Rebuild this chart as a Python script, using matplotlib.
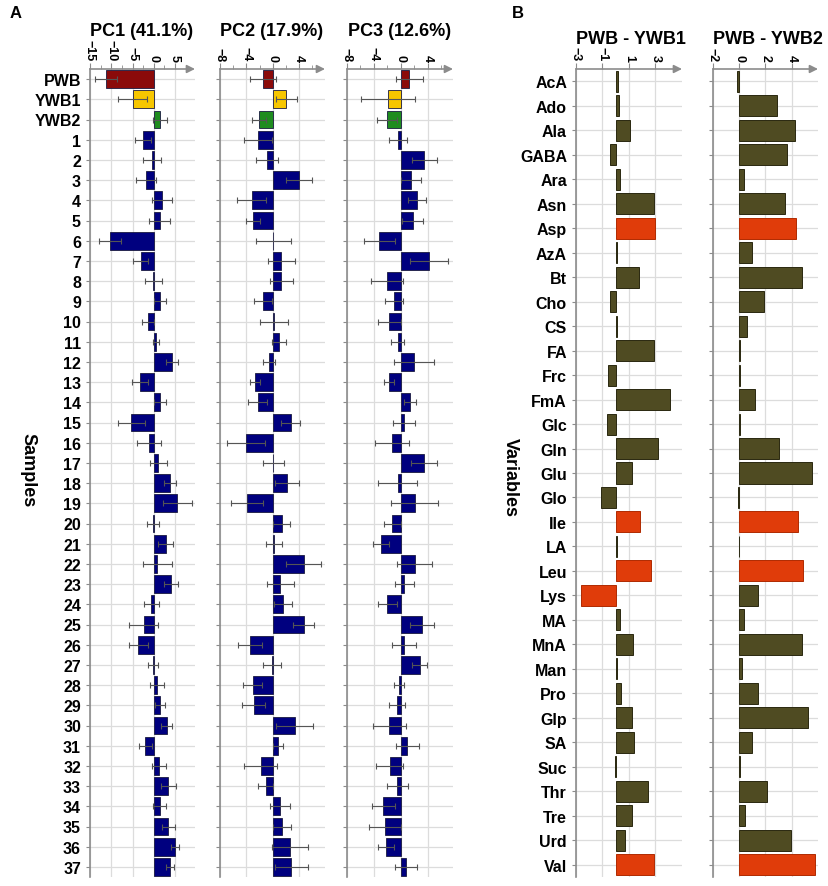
import matplotlib
matplotlib.use("Agg")
import matplotlib.pyplot as plt
from matplotlib.ticker import FixedLocator

# ---------------- data ----------------
samples = ["PWB", "YWB1", "YWB2"] + [str(i) for i in range(1, 38)]
sample_colors = ["#8b0a0a", "#f7c600", "#1f8c1f"] + ["#00007f"] * 37

pc1_mean = [-11.2, -5.0, 1.4, -2.6, -0.4, -1.8, 1.9, 1.4, -10.3, -3.1,
            -0.15, 1.5, -1.4, 0.55, 4.3, -3.3, 1.4, -5.25, -1.2, 1.1,
            3.8, 5.5, -0.2, 2.8, 0.8, 4.0, -0.55, -2.35, -3.6, -0.2,
            0.85, 1.5, 3.05, -1.95, 1.2, 3.4, 1.4, 3.4, 5.0, 3.85]
pc1_err = [2.6, 3.5, 1.6, 1.9, 2.2, 2.4, 2.4, 2.5, 2.5, 1.8,
           2.0, 1.4, 1.35, 0.7, 1.4, 1.9, 1.4, 3.1, 2.8, 1.9,
           1.35, 3.4, 1.4, 1.8, 3.4, 1.6, 1.75, 3.45, 2.2, 1.1,
           1.65, 1.1, 1.35, 1.6, 1.7, 1.8, 1.5, 1.55, 1.0, 0.95]

pc2_mean = [-1.45, 2.05, -2.1, -2.3, -0.9, 3.95, -3.2, -3.0, 0.1, 1.3,
            1.3, -1.5, 0.2, 0.95, -0.55, -2.7, -2.3, 2.7, -4.05, 0.1,
            2.15, -3.9, 1.35, 0.2, 4.65, 1.15, 1.55, 4.7, -3.45, -0.15,
            -3.05, -2.9, 3.35, 0.8, -1.85, -1.1, 1.05, 1.35, 2.6, 2.8]
pc2_err = [2.0, 1.6, 1.1, 2.1, 1.7, 2.0, 2.2, 1.1, 2.6, 2.0,
           1.8, 1.4, 2.1, 1.05, 0.95, 0.7, 1.4, 1.4, 2.9, 1.6,
           1.8, 2.4, 1.25, 1.25, 2.7, 2.0, 1.35, 1.6, 1.85, 1.35,
           1.45, 1.75, 2.8, 0.7, 2.5, 1.1, 1.55, 1.35, 2.8, 2.5]

pc3_mean = [1.25, -1.85, -2.05, -0.4, 3.5, 1.45, 2.4, 1.75, -3.2, 4.15,
            -2.05, -1.0, -1.75, -0.45, 1.95, -1.7, 1.3, 0.45, -1.35, 3.4,
            -0.45, 2.05, -1.25, -2.9, 2.1, 0.5, -2.0, 3.1, 0.45, 2.8,
            -0.3, -0.55, -1.7, 0.95, -1.65, -0.5, -2.6, -2.4, -2.2, 0.75]
pc3_err = [2.0, 4.0, 1.5, 1.3, 1.8, 1.5, 1.3, 1.6, 2.3, 2.8,
           2.4, 1.3, 1.7, 0.95, 3.0, 0.75, 0.9, 1.6, 2.5, 1.9,
           2.9, 3.5, 1.3, 1.2, 2.6, 1.4, 1.4, 1.8, 1.75, 1.1,
           0.7, 1.2, 2.5, 1.7, 2.0, 1.6, 1.7, 2.4, 1.15, 1.6]

pc_titles = ["PC1 (41.1%)", "PC2 (17.9%)", "PC3 (12.6%)"]

variables = ["AcA", "Ado", "Ala", "GABA", "Ara", "Asn", "Asp", "AzA", "Bt", "Cho",
             "CS", "FA", "Frc", "FmA", "Glc", "Gln", "Glu", "Glo", "Ile", "LA",
             "Leu", "Lys", "MA", "MnA", "Man", "Pro", "Glp", "SA", "Suc", "Thr",
             "Tre", "Urd", "Val"]
highlight_ywb1 = ["Asp", "Ile", "Leu", "Lys", "Val"]
highlight_ywb2 = ["Asp", "Ile", "Leu", "Val"]
ywb1_diff = [0.2, 0.25, 1.06, -0.45, 0.33, 2.85, 2.97, 0.1, 1.74, -0.4,
             0.1, 2.85, -0.58, 4.08, -0.65, 3.22, 1.23, -1.13, 1.81, 0.08,
             2.64, -2.64, 0.35, 1.28, 0.1, 0.4, 1.2, 1.41, -0.05, 2.44,
             1.23, 0.7, 2.87]
ywb2_diff = [-0.15, 2.84, 4.25, 3.65, 0.33, 3.52, 4.33, 0.99, 4.76, 1.92,
             0.56, 0.08, 0.08, 1.19, 0.05, 3.01, 5.54, -0.1, 4.5, -0.05,
             4.86, 1.42, 0.38, 4.81, 0.2, 1.44, 5.24, 0.99, 0.05, 2.15,
             0.46, 3.92, 5.8]
diff_titles = ["PWB - YWB1", "PWB - YWB2"]

# ---------------- layout ----------------
W, H = 829, 887
fig = plt.figure(figsize=(W / 100, H / 100), dpi=100)
plt.rcParams["font.family"] = ["Liberation Sans", "DejaVu Sans"]


def rect(x0, x1, yt, yb):
    return [x0 / W, 1 - yb / H, (x1 - x0) / W, (yb - yt) / H]


GRID = "#dcdcdc"
SPINE = "#8c8c8c"


def style_axis(ax, nrows, xlim, major, minor):
    ax.set_xlim(*xlim)
    ax.set_ylim(nrows - 0.5, -0.5)
    ax.xaxis.tick_top()
    ax.xaxis.set_major_locator(FixedLocator(major))
    ax.xaxis.set_minor_locator(FixedLocator(minor))
    ax.tick_params(axis="x", which="both", direction="out", colors=SPINE,
                   labelcolor="black", labelsize=9, pad=2, labelrotation=-90)
    ax.tick_params(axis="x", which="major", length=4)
    ax.tick_params(axis="x", which="minor", length=3)
    for lab in ax.get_xticklabels():
        lab.set_fontweight("bold")
    ax.set_yticks(range(nrows))
    ax.tick_params(axis="y", length=3, colors=SPINE, labelcolor="black")
    for s in ["right", "bottom", "top"]:
        ax.spines[s].set_visible(False)
    ax.spines["left"].set_color(SPINE)
    ax.spines["left"].set_linewidth(1.2)
    ax.grid(True, which="major", axis="x", color=GRID, lw=0.9)
    for i in range(nrows):
        ax.axhline(i, color=GRID, lw=0.9, zorder=0)
    ax.set_axisbelow(True)
    ax.annotate("", xy=(1.0, 1.0), xytext=(0.0, 1.0), xycoords="axes fraction",
                arrowprops=dict(arrowstyle="-|>", color=SPINE, lw=1.2,
                                mutation_scale=12, shrinkA=0, shrinkB=0),
                annotation_clip=False)


# Panel A
ytop, ybot = 70, 878
pcs = [(pc1_mean, pc1_err), (pc2_mean, pc2_err), (pc3_mean, pc3_err)]
xr = [(90, 195), (220, 325), (347, 453)]
title_x = [142, 272, 400]
lims = [(-15, 9.7), (-8, 7.9), (-8, 7.75)]
majors = [[-15, -10, -5, 0, 5], [-8, -4, 0, 4], [-8, -4, 0, 4]]
minors = [[-12.5, -7.5, -2.5, 2.5, 7.5], [-6, -2, 2, 6], [-6, -2, 2, 6]]
n = len(samples)
for k in range(3):
    ax = fig.add_axes(rect(xr[k][0], xr[k][1], ytop, ybot))
    style_axis(ax, n, lims[k], majors[k], minors[k])
    m, e = pcs[k]
    ypos = list(range(n))
    ax.barh(ypos, m, height=0.88, color=sample_colors, edgecolor="#1a1a40",
            linewidth=0.6, zorder=2)
    ax.errorbar(m, ypos, xerr=e, fmt="none", ecolor="#555555", elinewidth=0.8,
                capsize=2.5, capthick=0.8, zorder=3)
    if k == 0:
        ax.set_yticklabels(samples, fontsize=11.5, fontweight="bold")
    else:
        ax.set_yticklabels([])
    fig.text(title_x[k] / W, 1 - 32 / H, pc_titles[k], fontsize=13,
             fontweight="bold", ha="center", va="center")

fig.text(10 / W, 1 - 14 / H, "A", fontsize=12, fontweight="bold", va="center")
fig.text(28 / W, 1 - 470 / H, "Samples", fontsize=13, fontweight="bold",
         rotation=-90, va="center", ha="center")

# Panel B
nv = len(variables)
diffs = [ywb1_diff, ywb2_diff]
highs = [highlight_ywb1, highlight_ywb2]
xrb = [(576, 682), (713, 818)]
title_xb = [631, 768]
limsb = [(-3, 5.0), (-2, 6.0)]
majorsb = [[-3, -1, 1, 3], [-2, 0, 2, 4]]
minorsb = [[-2, 0, 2, 4], [-1, 1, 3, 5]]
for k in range(2):
    ax = fig.add_axes(rect(xrb[k][0], xrb[k][1], ytop, ybot))
    style_axis(ax, nv, limsb[k], majorsb[k], minorsb[k])
    ax.tick_params(axis="x", which="minor", length=0)
    bcol = ["#e03c0a" if v in highs[k] else "#4f4b22" for v in variables]
    becol = ["#b02a00" if v in highs[k] else "#2a2810" for v in variables]
    ax.barh(range(nv), diffs[k], height=0.86, color=bcol, edgecolor=becol,
            linewidth=0.7, zorder=2)
    if k == 0:
        ax.set_yticklabels(variables, fontsize=11.5, fontweight="bold")
    else:
        ax.set_yticklabels([])
    fig.text(title_xb[k] / W, 1 - 39 / H, diff_titles[k], fontsize=13,
             fontweight="bold", ha="center", va="center")

fig.text(512 / W, 1 - 14 / H, "B", fontsize=12, fontweight="bold", va="center")
fig.text(510 / W, 1 - 478 / H, "Variables", fontsize=13, fontweight="bold",
         rotation=-90, va="center", ha="center")

fig.savefig("out.png", dpi=100)
